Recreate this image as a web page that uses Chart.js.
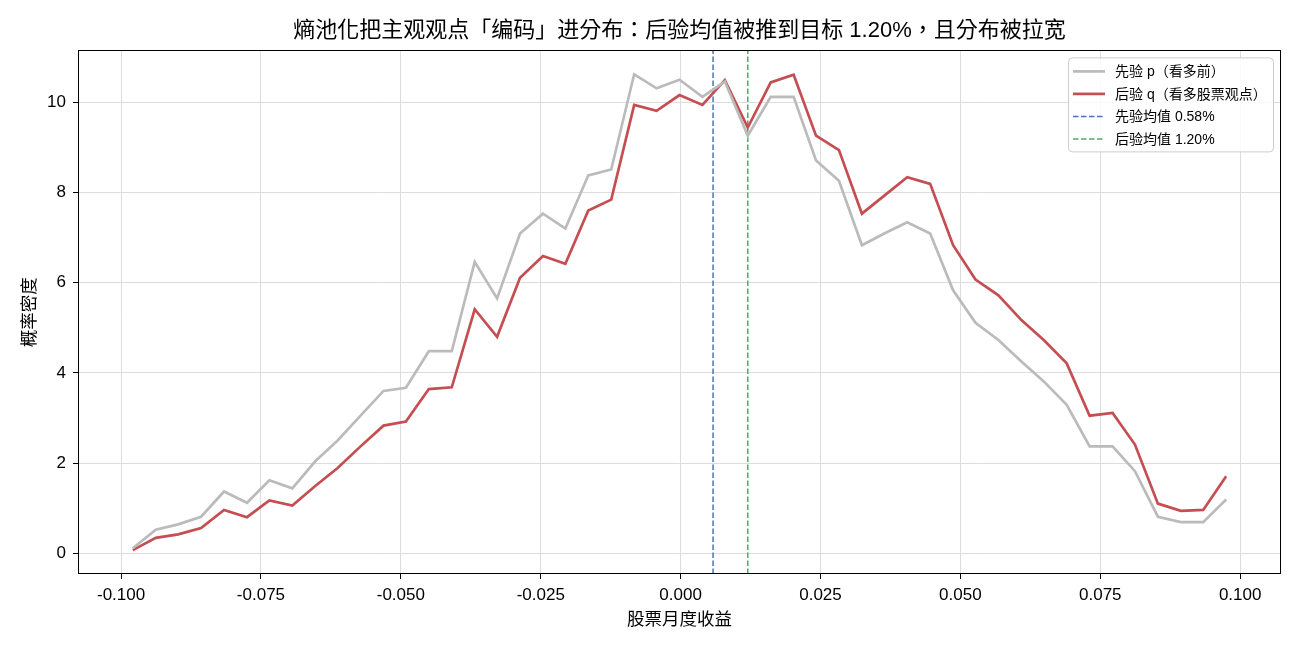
<!DOCTYPE html>
<html>
<head>
<meta charset="utf-8">
<script src="https://cdn.jsdelivr.net/npm/chart.js@4.4.0/dist/chart.umd.min.js"></script>
<style>
  html, body { margin: 0; padding: 0; background: #fff; }
  #wrap { width: 1300px; height: 650px; }
</style>
</head>
<body>
<div id="wrap"><canvas id="c" width="1300" height="650"></canvas></div>
<script>
// 收益分箱中心（x 轴）
const returnsX = [
  -0.0979, -0.0938, -0.0898, -0.0857, -0.0816, -0.0775, -0.0735, -0.0694, -0.0653, -0.0613,
  -0.0572, -0.0531, -0.0491, -0.0450, -0.0409, -0.0368, -0.0328, -0.0287, -0.0246, -0.0206,
  -0.0165, -0.0124, -0.0083, -0.0043, -0.0002, 0.0039, 0.0079, 0.0120, 0.0161, 0.0202,
  0.0242, 0.0283, 0.0324, 0.0364, 0.0405, 0.0446, 0.0487, 0.0527, 0.0568, 0.0609,
  0.0649, 0.0690, 0.0731, 0.0772, 0.0812, 0.0853, 0.0894, 0.0934, 0.0975
];

// 先验 p 的密度
const priorDensity = [
  0.11, 0.52, 0.64, 0.81, 1.37, 1.12, 1.62, 1.44, 2.04, 2.50,
  3.05, 3.60, 3.67, 4.48, 4.48, 6.46, 5.65, 7.09, 7.53, 7.20,
  8.38, 8.51, 10.62, 10.31, 10.50, 10.12, 10.46, 9.26, 10.12, 10.12,
  8.71, 8.26, 6.83, 7.09, 7.34, 7.09, 5.83, 5.11, 4.73, 4.25,
  3.81, 3.29, 2.37, 2.37, 1.82, 0.81, 0.69, 0.69, 1.19
];

// 后验 q 的密度
const posteriorDensity = [
  0.07, 0.34, 0.42, 0.56, 0.96, 0.80, 1.17, 1.06, 1.49, 1.89,
  2.37, 2.83, 2.92, 3.64, 3.68, 5.41, 4.80, 6.11, 6.59, 6.42,
  7.60, 7.84, 9.94, 9.81, 10.16, 9.94, 10.49, 9.44, 10.44, 10.61,
  9.26, 8.94, 7.53, 7.93, 8.34, 8.19, 6.83, 6.07, 5.72, 5.17,
  4.73, 4.21, 3.05, 3.11, 2.41, 1.10, 0.94, 0.96, 1.71
];

// 均值
const priorMean = 0.0058;
const posteriorMean = 0.0120;

// 坐标轴范围
const X_MIN = -0.1077, X_MAX = 0.1073;
const Y_MIN = -0.46, Y_MAX = 11.15;

const FONT = '"Liberation Sans", "Noto Sans CJK TC", "Noto Sans CJK SC", Arial, sans-serif';
Chart.defaults.font.family = FONT;
Chart.defaults.color = "#000";

const toPoints = (xs, ys) => xs.map((x, i) => ({ x, y: ys[i] }));
const vline = x => [{ x, y: Y_MIN }, { x, y: Y_MAX }];

// 边框（四边黑线）
const frame = {
  id: "frame",
  afterDatasetsDraw(chart) {
    const { ctx, chartArea: a } = chart;
    ctx.save();
    ctx.strokeStyle = "#000";
    ctx.lineWidth = 1;
    ctx.strokeRect(Math.round(a.left) + 0.5, Math.round(a.top) + 0.5,
      Math.round(a.right - a.left) - 1, Math.round(a.bottom - a.top) - 1);
    ctx.restore();
  }
};

// 图例画在绘图区右上角
const boxLegend = {
  id: "boxLegend",
  afterDraw(chart) {
    const { ctx, chartArea: a } = chart;
    const w = 205, h = 94;
    const x0 = a.right - w - 8, y0 = a.top + 7;
    ctx.save();
    ctx.beginPath();
    ctx.roundRect(x0 + 0.5, y0 + 0.5, w, h, 4);
    ctx.fillStyle = "rgba(255,255,255,0.85)";
    ctx.fill();
    ctx.strokeStyle = "#cccccc";
    ctx.lineWidth = 1;
    ctx.stroke();

    ctx.font = "14px " + FONT;
    ctx.textBaseline = "middle";
    chart.data.datasets.forEach((ds, i) => {
      const y = y0 + 14 + i * 22.5;
      ctx.beginPath();
      ctx.setLineDash(ds.borderDash || []);
      ctx.strokeStyle = ds.borderColor;
      ctx.lineWidth = ds.borderWidth;
      ctx.moveTo(x0 + 5, y);
      ctx.lineTo(x0 + 37, y);
      ctx.stroke();
      ctx.setLineDash([]);
      ctx.fillStyle = "#000";
      ctx.fillText(ds.label, x0 + 47, y + 1);
    });
    ctx.restore();
  }
};

new Chart(document.getElementById("c"), {
  type: "line",
  data: {
    datasets: [
      {
        label: "先验 p（看多前）",
        data: toPoints(returnsX, priorDensity),
        borderColor: "#bbbbbb",
        borderWidth: 2.7,
        pointRadius: 0
      },
      {
        label: "后验 q（看多股票观点）",
        data: toPoints(returnsX, posteriorDensity),
        borderColor: "#c44e52",
        borderWidth: 2.7,
        pointRadius: 0
      },
      {
        label: "先验均值 0.58%",
        data: vline(priorMean),
        borderColor: "#4c72b0",
        borderWidth: 1.5,
        borderDash: [5.5, 2.5],
        pointRadius: 0
      },
      {
        label: "后验均值 1.20%",
        data: vline(posteriorMean),
        borderColor: "#55a868",
        borderWidth: 1.5,
        borderDash: [5.5, 2.5],
        pointRadius: 0
      }
    ]
  },
  options: {
    responsive: false,
    animation: false,
    devicePixelRatio: 1,
    layout: { padding: { left: 0, right: 19, top: 0, bottom: 0 } },
    plugins: {
      legend: { display: false },
      tooltip: { enabled: false },
      title: {
        display: true,
        fullSize: false,
        text: "熵池化把主观观点「编码」进分布：后验均值被推到目标 1.20%，且分布被拉宽",
        font: { size: 22, weight: "normal" },
        color: "#000",
        padding: { top: 18, bottom: 6 }
      }
    },
    scales: {
      x: {
        type: "linear",
        min: X_MIN,
        max: X_MAX,
        afterFit: s => { s.height = 76; },
        grid: { color: "#dddddd", lineWidth: 1, tickColor: "#000", tickLength: 5, tickWidth: 1 },
        border: { display: false },
        ticks: {
          stepSize: 0.025,
          includeBounds: false,
          autoSkip: false,
          maxRotation: 0,
          padding: 6,
          font: { size: 17 },
          callback: v => v.toFixed(3)
        },
        title: { display: true, text: "股票月度收益", font: { size: 17.5 }, padding: { top: 0, bottom: 19 } }
      },
      y: {
        min: Y_MIN,
        max: Y_MAX,
        afterFit: s => { s.width = 78; },
        grid: { color: "#dddddd", lineWidth: 1, tickColor: "#000", tickLength: 5, tickWidth: 1 },
        border: { display: false },
        ticks: {
          stepSize: 2,
          includeBounds: false,
          padding: 7,
          font: { size: 17 },
          callback: v => String(v)
        },
        title: { display: true, text: "概率密度", font: { size: 17.5 }, padding: { top: 20, bottom: 0 } }
      }
    }
  },
  plugins: [frame, boxLegend]
});
</script>
</body>
</html>
